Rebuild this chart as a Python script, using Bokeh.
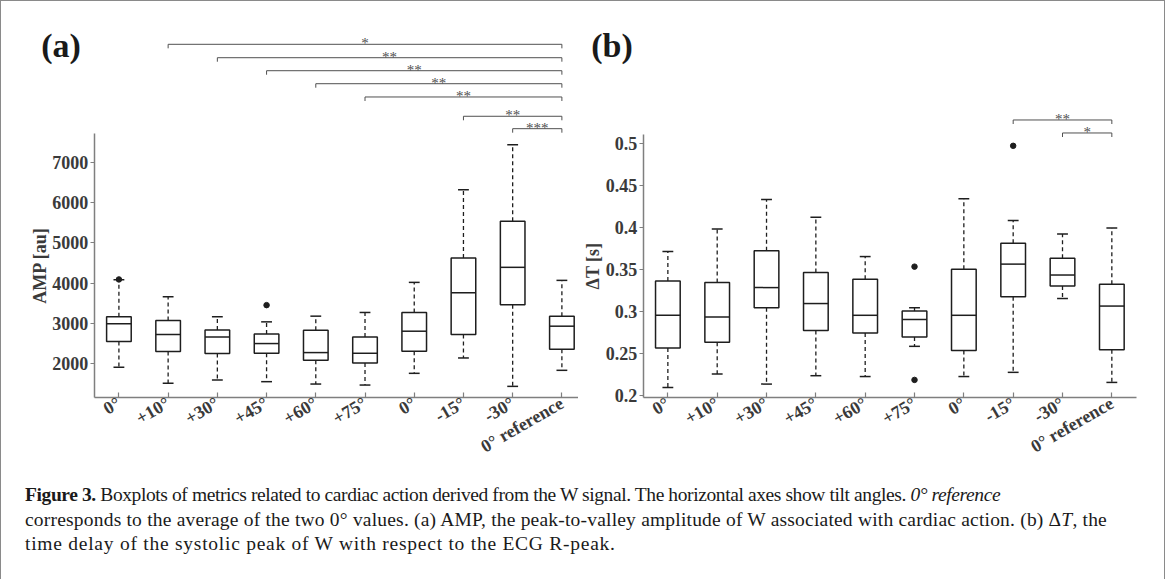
from bokeh.plotting import figure
from bokeh.models import Range1d, FixedTicker, CustomJSTickFormatter, Div, ColumnDataSource
from bokeh.layouts import row, column
from bokeh.embed import file_html
from bokeh.resources import INLINE
from bokeh.core.properties import value

categories = ["0°", "+10°", "+30°", "+45°", "+60°", "+75°", "0°", "-15°", "-30°", "0° reference"]
positions = [1, 2, 3, 4, 5, 6, 7, 8, 9, 10]

# Panel (a): AMP [au]
amp_low = [1900, 1500, 1583, 1542, 1483, 1458, 1750, 2133, 1425, 1825]
amp_q1 = [2542, 2292, 2242, 2250, 2075, 2008, 2300, 2717, 3458, 2350]
amp_med = [2983, 2717, 2658, 2492, 2267, 2250, 2800, 3758, 4392, 2925]
amp_q3 = [3158, 3067, 2833, 2733, 2825, 2658, 3267, 4625, 5542, 3175]
amp_high = [4083, 3658, 3158, 3033, 3175, 3267, 4017, 6325, 7450, 4067]
amp_out_x = [1, 4]
amp_out_y = [4090, 3450]
amp_sig_from = [2, 3, 4, 5, 6, 8, 9]
amp_sig_to = [10, 10, 10, 10, 10, 10, 10]
amp_sig_text = ["*", "**", "**", "**", "**", "**", "***"]
amp_sig_level = [9951, 9617, 9293, 8969, 8638, 8157, 7848]
amp_ticks = [2000, 3000, 4000, 5000, 6000, 7000]

# Panel (b): Delta T [s]
dt_low = [0.209, 0.225, 0.213, 0.223, 0.222, 0.258, 0.222, 0.227, 0.315, 0.215]
dt_q1 = [0.256, 0.263, 0.304, 0.277, 0.274, 0.269, 0.253, 0.317, 0.330, 0.254]
dt_med = [0.295, 0.293, 0.328, 0.309, 0.295, 0.290, 0.295, 0.356, 0.343, 0.306]
dt_q3 = [0.336, 0.334, 0.372, 0.346, 0.338, 0.300, 0.350, 0.381, 0.363, 0.332]
dt_high = [0.371, 0.398, 0.433, 0.412, 0.365, 0.304, 0.434, 0.408, 0.392, 0.399]
dt_out_x = [6, 6, 8]
dt_out_y = [0.353, 0.218, 0.497]
dt_sig_from = [8, 9]
dt_sig_to = [10, 10]
dt_sig_text = ["**", "*"]
dt_sig_level = [0.5278, 0.5123]
dt_ticks = [0.2, 0.25, 0.3, 0.35, 0.4, 0.45, 0.5]

SERIF = "Liberation Serif"
BOX_COLOR = "#1e1e1e"
AXIS_COLOR = "#7f7f7f"
LABEL_COLOR = "#3a3a3a"
FIG_H = 461


def make_panel(low, q1, med, q3, high, out_x, out_y, sig_from, sig_to, sig_text,
               sig_level, xrange, yrange, ybounds, yticks, ylabel, tag, tag_pos, drop,
               width, fmt_code):
    p = figure(width=width, height=FIG_H, output_backend="svg", toolbar_location=None,
               x_range=Range1d(*xrange), y_range=Range1d(*yrange),
               min_border_left=0, min_border_right=0, min_border_top=0, min_border_bottom=0)
    p.grid.visible = False
    p.outline_line_color = None
    p.background_fill_color = None
    p.border_fill_color = None

    hw, cw = 0.25, 0.11
    src = ColumnDataSource(dict(x=positions, low=low, q1=q1, med=med, q3=q3, high=high,
                                l=[x - hw for x in positions], r=[x + hw for x in positions],
                                cl=[x - cw for x in positions], cr=[x + cw for x in positions]))
    p.segment(x0="x", y0="q3", x1="x", y1="high", source=src, line_color=BOX_COLOR,
              line_width=1.3, line_dash="4 3")
    p.segment(x0="x", y0="q1", x1="x", y1="low", source=src, line_color=BOX_COLOR,
              line_width=1.3, line_dash="4 3")
    p.segment(x0="cl", y0="high", x1="cr", y1="high", source=src, line_color=BOX_COLOR, line_width=1.5)
    p.segment(x0="cl", y0="low", x1="cr", y1="low", source=src, line_color=BOX_COLOR, line_width=1.5)
    p.quad(left="l", right="r", bottom="q1", top="q3", source=src, fill_color=None,
           line_color=BOX_COLOR, line_width=1.5)
    p.segment(x0="l", y0="med", x1="r", y1="med", source=src, line_color=BOX_COLOR, line_width=1.5)
    p.scatter(x=out_x, y=out_y, size=5.5, color=BOX_COLOR)

    ssrc = ColumnDataSource(dict(x0=sig_from, x1=sig_to, y=sig_level,
                                 yd=[v - drop for v in sig_level],
                                 xm=[(a + b) / 2 for a, b in zip(sig_from, sig_to)],
                                 t=sig_text))
    p.segment(x0="x0", y0="y", x1="x1", y1="y", source=ssrc, line_color="#505050", line_width=1)
    p.segment(x0="x0", y0="y", x1="x0", y1="yd", source=ssrc, line_color="#505050", line_width=1)
    p.segment(x0="x1", y0="y", x1="x1", y1="yd", source=ssrc, line_color="#505050", line_width=1)
    p.text(x="xm", y="y", text="t", source=ssrc, text_align="center", text_baseline="alphabetic",
           text_font=value(SERIF), text_font_size="15px", text_color="#505050", y_offset=-1)

    p.text(x=[tag_pos[0]], y=[tag_pos[1]], text=[tag], text_font=value(SERIF),
           text_font_style="bold", text_font_size="34px", text_color="#1a1a1a",
           text_align="left", text_baseline="alphabetic")

    p.yaxis.fixed_location = 0.5
    p.yaxis.bounds = ybounds
    p.xaxis.fixed_location = ybounds[0]
    p.xaxis.bounds = (0.5, 10.5)
    p.yaxis.ticker = FixedTicker(ticks=yticks)
    p.yaxis.formatter = CustomJSTickFormatter(code=fmt_code)
    p.xaxis.ticker = FixedTicker(ticks=positions)
    p.xaxis.formatter = CustomJSTickFormatter(args=dict(labels=categories),
                                              code="return labels[Math.round(tick) - 1];")
    p.xaxis.major_label_orientation = 0.5236
    for ax in (p.xaxis[0], p.yaxis[0]):
        ax.axis_line_color = AXIS_COLOR
        ax.axis_line_width = 1.5
        ax.major_tick_line_color = AXIS_COLOR
        ax.major_tick_line_width = 1.2
        ax.minor_tick_line_color = None
        ax.major_label_text_font = SERIF
        ax.major_label_text_font_style = "bold"
        ax.major_label_text_font_size = "18px"
        ax.major_label_text_color = LABEL_COLOR
    p.xaxis.major_tick_in = 5
    p.xaxis.major_tick_out = 0
    p.xaxis.major_label_standoff = 4
    p.yaxis.major_tick_in = 0
    p.yaxis.major_tick_out = 4
    p.yaxis.major_label_standoff = 2
    p.yaxis.axis_label = ylabel
    p.yaxis.axis_label_text_font = SERIF
    p.yaxis.axis_label_text_font_style = "bold"
    p.yaxis.axis_label_text_font_size = "18px"
    p.yaxis.axis_label_text_color = LABEL_COLOR
    p.yaxis.axis_label_standoff = 0
    return p


def lin_range(v_a, px_a, v_b, px_b, px_start, px_end):
    # value range of a linear scale fixed by two (value, pixel) anchors
    k = (v_b - v_a) / (px_b - px_a)
    return (v_a + (px_start - px_a) * k, v_a + (px_end - px_a) * k)


X0, Y0 = 0.5, 0.5   # where the figure canvases are actually painted
WA, WB = 577, 576
a_x = lin_range(0.5, 93.3, 10.5, 585.5, X0, X0 + WA)
a_y = lin_range(2000, 362.3, 7000, 161.7, Y0 + FIG_H, Y0)
b_x = lin_range(0.5, 642.2, 10.5, 1135.5, X0 + WA, X0 + WA + WB)
b_y = lin_range(0.2, 394.0, 0.5, 142.3, Y0 + FIG_H, Y0)

pa = make_panel(amp_low, amp_q1, amp_med, amp_q3, amp_high, amp_out_x, amp_out_y,
                amp_sig_from, amp_sig_to, amp_sig_text, amp_sig_level,
                a_x, a_y, (1142, 7723), amp_ticks, "AMP [au]", "(a)", (-0.58, 9909), 100,
                WA, "return tick.toFixed(0);")
pb = make_panel(dt_low, dt_q1, dt_med, dt_q3, dt_high, dt_out_x, dt_out_y,
                dt_sig_from, dt_sig_to, dt_sig_text, dt_sig_level,
                b_x, b_y, (0.1966, 0.5107), dt_ticks, "ΔT [s]", "(b)", (-0.555, 0.616), 0.0048,
                WB, "return String(Math.round(tick * 100) / 100);")

caption_html = (
    "<div style=\"font-family:'Liberation Serif';font-size:19.5px;line-height:24.5px;"
    "color:#1a1a1a;white-space:nowrap;padding-left:19px;padding-top:16px;\">"
    "<div style=\"letter-spacing:-0.4px;\"><b>Figure 3.</b> Boxplots of metrics related to cardiac action "
    "derived from the W signal. The horizontal axes show tilt angles. <i>0° reference</i></div>"
    "<div style=\"letter-spacing:0.2px;\">corresponds to the average of the two 0° values. (a) AMP, the "
    "peak-to-valley amplitude of W associated with cardiac action. (b) Δ<i>T</i>, the</div>"
    "<div style=\"letter-spacing:0.75px;\">time delay of the systolic peak of W with respect to the ECG R-peak.</div>"
    "</div>"
)
cap = Div(text=caption_html, width=WA + WB, height=108)

layout = column(row(pa, pb), cap, styles={"border": "1px solid #8a8a8a"})

open("out.html", "w").write(file_html(layout, INLINE))
